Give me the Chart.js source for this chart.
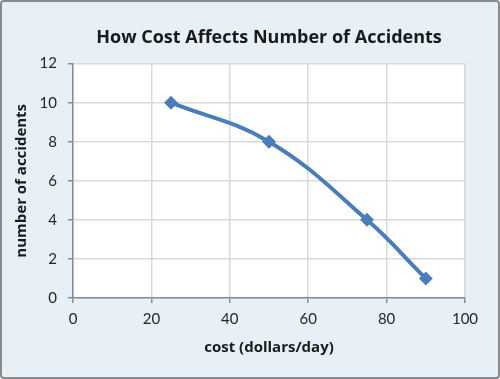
<!DOCTYPE html>
<html>
<head>
<meta charset="utf-8">
<script src="https://cdn.jsdelivr.net/npm/chart.js@4/dist/chart.umd.min.js"></script>
<style>
  html, body { margin: 0; padding: 0; background: #ffffff; }
  #wrap { width: 500px; height: 379px; position: relative; }
  canvas { display: block; }
</style>
</head>
<body>
<div id="wrap"><canvas id="c" width="500" height="379"></canvas></div>
<script>
const costs = [25, 50, 75, 90];
const accidents = [10, 8, 4, 1];
const xTicks = [0, 20, 40, 60, 80, 100];
const yTicks = [0, 2, 4, 6, 8, 10, 12];
const chartTitle = 'How Cost Affects Number of Accidents';
const xTitle = 'cost (dollars/day)';
const yTitle = 'number of accidents';

const points = costs.map((c, i) => ({ x: c, y: accidents[i] }));

const bgPlugin = {
  id: 'bg',
  beforeDraw(chart) {
    const ctx = chart.ctx;
    const w = chart.width, h = chart.height;
    ctx.save();
    ctx.fillStyle = '#e6f0f6';
    ctx.fillRect(0, 0, w, h);
    const a = chart.chartArea;
    ctx.fillStyle = '#ffffff';
    ctx.fillRect(a.left, a.top, a.right - a.left, a.bottom - a.top);
    ctx.strokeStyle = '#8a8a8a';
    ctx.lineWidth = 2;
    ctx.beginPath();
    ctx.roundRect(1, 1, w - 2, h - 2, 3);
    ctx.stroke();
    ctx.restore();
  }
};

new Chart(document.getElementById('c'), {
  type: 'scatter',
  data: {
    datasets: [{
      data: points,
      showLine: true,
      borderColor: '#4a7ebb',
      backgroundColor: '#4a7ebb',
      borderWidth: 4,
      tension: 0.4,
      pointStyle: 'rectRot',
      pointRadius: 7,
      pointHoverRadius: 7,
      pointBorderWidth: 0
    }]
  },
  options: {
    responsive: false,
    animation: false,
    devicePixelRatio: 1,
    layout: { padding: { left: 0, right: 35, top: 0, bottom: 0 } },
    plugins: {
      legend: { display: false },
      tooltip: { enabled: false },
      title: {
        display: true,
        fullSize: false,
        text: chartTitle,
        color: '#1a1a1a',
        font: { family: 'Open Sans', size: 18, weight: 'bold' },
        padding: { top: 27, bottom: 15 }
      }
    },
    scales: {
      x: {
        type: 'linear',
        min: xTicks[0],
        max: xTicks[xTicks.length - 1],
        afterBuildTicks(scale) { scale.ticks = xTicks.map(v => ({ value: v })); },
        afterFit(scale) { scale.height = 81; },
        ticks: { color: '#262626', font: { family: 'Lato', size: 15 }, padding: 7, maxRotation: 0 },
        grid: { color: '#d9d9d9', tickColor: '#8a8a8a', tickLength: 5, lineWidth: 1.5 },
        border: { color: '#8a8a8a', width: 1.5 },
        title: {
          display: true,
          text: xTitle,
          color: '#1a1a1a',
          font: { family: 'Open Sans', size: 15, weight: 'bold' },
          padding: { top: 0, bottom: 22 }
        }
      },
      y: {
        type: 'linear',
        min: yTicks[0],
        max: yTicks[yTicks.length - 1],
        afterBuildTicks(scale) { scale.ticks = yTicks.map(v => ({ value: v })); },
        afterFit(scale) { scale.width = 73; },
        ticks: { color: '#262626', font: { family: 'Lato', size: 15 }, padding: 11 },
        grid: { color: '#d9d9d9', tickColor: '#8a8a8a', tickLength: 5, lineWidth: 1.5 },
        border: { color: '#8a8a8a', width: 1.5 },
        title: {
          display: true,
          text: yTitle,
          color: '#1a1a1a',
          font: { family: 'Open Sans', size: 15, weight: 'bold' },
          padding: { top: 13, bottom: 0 }
        }
      }
    }
  },
  plugins: [bgPlugin]
});
</script>
</body>
</html>
